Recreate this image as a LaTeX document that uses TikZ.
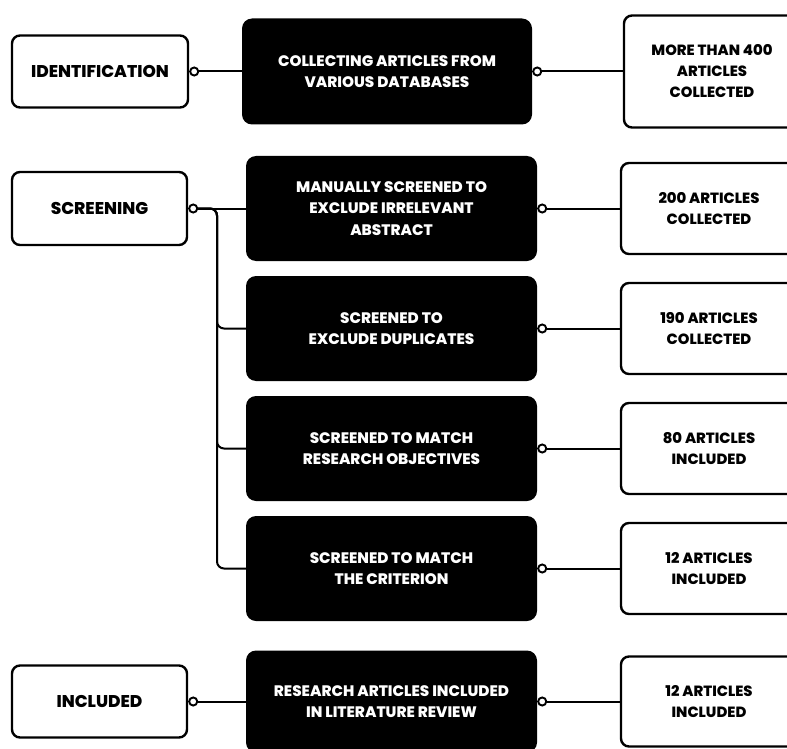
\documentclass[tikz,border=0pt]{standalone}
\usepackage{fontspec}
\setmainfont{Poppins}[BoldFont={Poppins ExtraBold}]
\usetikzlibrary{arrows.meta,calc}
\begin{document}
\begin{tikzpicture}[x=1pt,y=-1pt,
  lbox/.style={draw=black,line width=2.4pt,rounded corners=8pt,fill=white,minimum width=176pt,minimum height=72pt,inner sep=0pt,align=center,font=\fontsize{17}{21}\selectfont\bfseries},
  bbox/.style={fill=black,rounded corners=10pt,minimum width=291pt,minimum height=105pt,inner sep=0pt,align=center,text=white,font=\fontsize{15.2}{21.5}\selectfont\bfseries},
  rbox/.style={draw=black,line width=2.4pt,rounded corners=8pt,fill=white,minimum width=176pt,minimum height=91pt,inner sep=0pt,align=center,font=\fontsize{14.8}{21}\selectfont\bfseries},
  wire/.style={line width=2pt,draw=black},
  dot/.style={{Circle[open,length=10pt,width=10pt,line width=1.9pt]}-}]
\useasboundingbox (0,0) rectangle (787,749);
% left column
\node[lbox] (L1) at (100,71.5) {IDENTIFICATION};
\node[lbox,minimum width=175pt,minimum height=73pt] (L2) at (99.5,208.5) {SCREENING};
\node[lbox,minimum width=175pt] (L3) at (99.5,701.5) {INCLUDED};
% middle column
\node[bbox,minimum width=290pt,minimum height=106pt] (B1) at (387,71.5) {COLLECTING ARTICLES FROM\\VARIOUS DATABASES};
\node[bbox] (B2) at (391.5,208.5) {MANUALLY SCREENED TO\\EXCLUDE IRRELEVANT\\ABSTRACT};
\node[bbox] (B3) at (391.5,328.5) {SCREENED TO\\EXCLUDE DUPLICATES};
\node[bbox] (B4) at (391.5,448.5) {SCREENED TO MATCH\\RESEARCH OBJECTIVES};
\node[bbox] (B5) at (391.5,568.5) {SCREENED TO MATCH\\THE CRITERION};
\node[bbox,minimum height=102pt] (B6) at (391.5,701.5) {RESEARCH ARTICLES INCLUDED\\IN LITERATURE REVIEW};
% right column
\node[rbox,minimum height=112pt] (R1) at (712,71.5) {MORE THAN 400\\ARTICLES\\COLLECTED};
\node[rbox] (R2) at (709,208.5) {200 ARTICLES\\COLLECTED};
\node[rbox] (R3) at (709,328.5) {190 ARTICLES\\COLLECTED};
\node[rbox] (R4) at (709,448.5) {80 ARTICLES\\INCLUDED};
\node[rbox] (R5) at (709,568.5) {12 ARTICLES\\INCLUDED};
\node[rbox,minimum height=90pt] (R6) at (709,701.5) {12 ARTICLES\\INCLUDED};
% connectors
\draw[wire,dot] (L1.east) -- (B1.west);
\draw[wire,dot] (L2.east) -- (B2.west);
\draw[wire,dot] (L3.east) -- (B6.west);
\draw[wire,dot] (B1.east) -- (R1.west);
\draw[wire,dot] (B2.east) -- (R2.west);
\draw[wire,dot] (B3.east) -- (R3.west);
\draw[wire,dot] (B4.east) -- (R4.west);
\draw[wire,dot] (B5.east) -- (R5.west);
\draw[wire,dot] (B6.east) -- (R6.west);
% screening bus
\coordinate (bus) at (217,208.5);
\coordinate (tap) at ($(L2.east)+(10,0)$);
\draw[wire,rounded corners=7pt] (tap) -| (B3.west -| bus) -- (B3.west);
\draw[wire,rounded corners=7pt] (tap) -| (B4.west -| bus) -- (B4.west);
\draw[wire,rounded corners=7pt] (tap) -| (B5.west -| bus) -- (B5.west);
\end{tikzpicture}
\end{document}
